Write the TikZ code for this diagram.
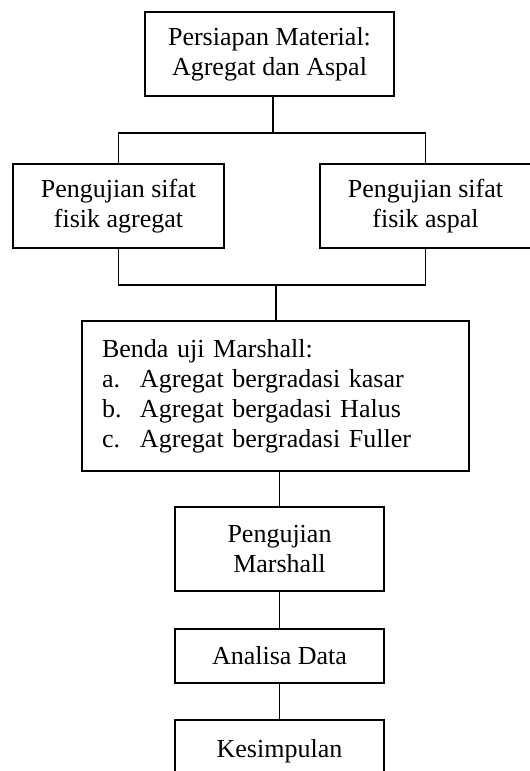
\documentclass[tikz,border=0pt]{standalone}
\usepackage{fontspec}
\setmainfont{Liberation Serif}
\begin{document}
\begin{tikzpicture}[x=1pt,y=-1pt,
  box/.style={draw,line width=1.3pt,inner sep=0pt,align=center,
    font=\fontsize{26}{30}\selectfont},
  conn/.style={line width=1.3pt}]
\useasboundingbox (0,0) rectangle (530,771);
\node[box,minimum width=249,minimum height=84] (top) at (269.5,54) {Persiapan Material:\\Agregat dan Aspal};
\node[box,minimum width=211,minimum height=84] (left) at (118.5,206) {Pengujian sifat\\fisik agregat};
\node[box,minimum width=211,minimum height=84] (right) at (425.5,206) {Pengujian sifat\\fisik aspal};
\node[box,minimum width=387,minimum height=150,text width=347,inner xsep=20,align=left] (mid) at (275.5,396)
  {Benda uji Marshall:\\
   \makebox[38pt][l]{a.}Agregat bergradasi kasar\\
   \makebox[38pt][l]{b.}Agregat bergadasi Halus\\
   \makebox[38pt][l]{c.}Agregat bergradasi Fuller};
\node[box,minimum width=209,minimum height=84] (pm) at (279.5,549) {Pengujian\\Marshall};
\node[box,minimum width=209,minimum height=54] (ad) at (279.5,656) {Analisa Data};
\node[box,minimum width=209,minimum height=62] (k) at (279.5,751) {Kesimpulan};
\coordinate (s) at (273,133);
\coordinate (j) at (276,285);
\draw[conn] (top.south -| s) -- (s);
\draw[conn] (left.north) |- (s) -| (right.north);
\draw[conn] (left.south) |- (j) -| (right.south);
\draw[conn] (j) -- (mid.north -| j);
\draw[conn] (mid.south -| pm) -- (pm.north);
\draw[conn] (pm.south) -- (ad.north);
\draw[conn] (ad.south) -- (k.north);
\end{tikzpicture}
\end{document}
